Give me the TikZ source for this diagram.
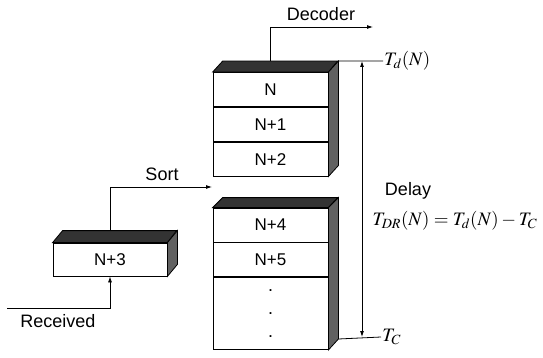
\documentclass[tikz,border=0pt]{standalone}
\usepackage{mathptmx}
\usepackage{fontspec}
\setmainfont{Liberation Sans}
\usetikzlibrary{arrows.meta,positioning,calc}

\begin{document}
\begin{tikzpicture}[
  x=1pt, y=-1pt, line width=0.8pt,
  cell/.style={draw, minimum width=115pt, minimum height=34pt, inner sep=0pt, font=\fontsize{17}{19}\selectfont},
  topface/.style={draw, fill=black!80},
  sideface/.style={draw, fill=black!62},
  lbl/.style={font=\fontsize{18}{20}\selectfont},
  mlbl/.style={font=\fontsize{19}{21}\selectfont},
  arrow/.style={-{Latex[length=6pt,width=4pt]}},
  both/.style={{Latex[length=6pt,width=4pt]}-{Latex[length=6pt,width=4pt]}}
]
\useasboundingbox (0,0) rectangle (543,358);

% upper stack
\node[cell] (n0) at (270.5,89.5) {N};
\node[cell, below=0pt of n0] (n1) {N+1};
\node[cell, below=0pt of n1] (n2) {N+2};
\draw[topface] (n0.north west) -- ++(10,-11) -- ++(115,0) -- (n0.north east) -- cycle;
\draw[sideface] (n0.north east) -- ++(10,-11) -- ($(n2.south east)+(10,-11)$) -- (n2.south east) -- cycle;

% lower stack
\node[cell] (n4) at (270.5,225) {N+4};
\node[cell, below=0pt of n4] (n5) {N+5};
\node[cell, below=0pt of n5, minimum height=72pt, align=center, font=\fontsize{18}{23}\selectfont] (rest) {.\\.\\.};
\draw[topface] (n4.north west) -- ++(10,-10) -- ++(115,0) -- (n4.north east) -- cycle;
\draw[sideface] (n4.north east) -- ++(10,-10) -- ($(rest.south east)+(10,-11)$) -- (rest.south east) -- cycle;

% single block
\node[cell, minimum width=114pt, minimum height=33pt] (n3) at (110,259.5) {N+3};
\draw[topface] (n3.north west) -- ++(10,-12) -- ++(114,0) -- (n3.north east) -- cycle;
\draw[sideface] (n3.north east) -- ++(10,-12) -- ($(n3.south east)+(10,-12)$) -- (n3.south east) -- cycle;

% connectors
\coordinate (dtop) at ($(n0.north)+(0,-11)$);
\coordinate (dec) at (373,27);
\draw[arrow] (dtop) |- (dec);
\node[lbl] (declbl) at (321,14) {Decoder};

\coordinate (stop) at ($(n3.north)+(0,-12)$);
\coordinate (sortend) at (212,187);
\draw[arrow] (stop) |- (sortend);
\node[lbl] (sortlbl) at (162,174) {Sort};

\coordinate (recv) at (7,308);
\draw[arrow] (recv) -| (n3.south);
\node[lbl] (recvlbl) at (58,321) {Received};

% timing
\coordinate (corner1) at ($(n0.north east)+(10,-11)$);
\coordinate (td) at (383,61);
\draw (corner1) -- (td);
\node[mlbl, anchor=west, inner sep=1pt] (tdlbl) at (td) {$T_d(N)$};
\coordinate (corner2) at ($(rest.south east)+(10,-11)$);
\coordinate (tc) at (381,337);
\draw (corner2) -- (tc);
\node[mlbl, anchor=west, inner sep=1pt] (tclbl) at (tc) {$T_C$};
\coordinate (vt) at (362,61);
\coordinate (vb) at (362,337);
\draw[both] (vt) -- (vb);
\node[lbl] (delaylbl) at (408,191) {Delay};
\node[mlbl, inner sep=0pt] (formula) at (455,221) {$T_{DR}(N)=T_d(N)-T_C$};
\end{tikzpicture}
\end{document}
